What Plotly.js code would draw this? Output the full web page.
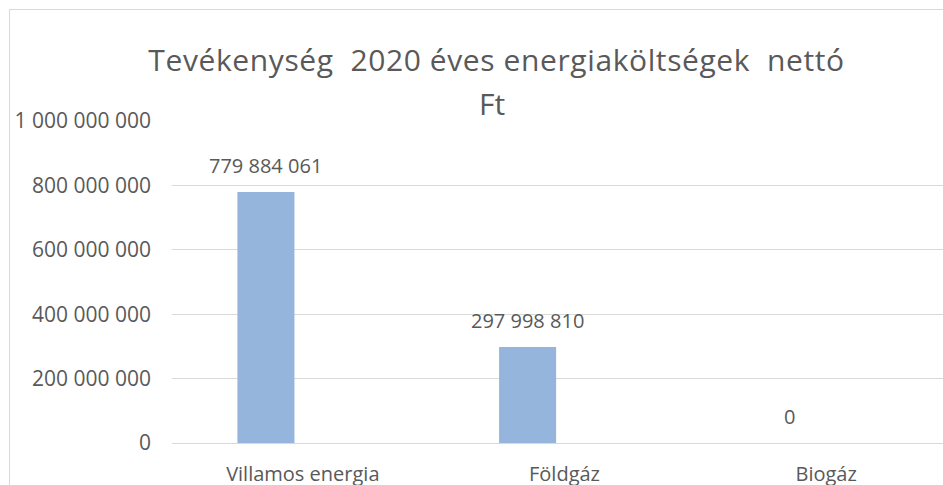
<!DOCTYPE html>
<html>
<head>
<meta charset="utf-8">
<script src="https://cdn.plot.ly/plotly-3.0.1.min.js"></script>
<style>
  html, body { margin: 0; padding: 0; width: 943px; height: 485px; overflow: hidden; background: #fff; }
  #frame { position: absolute; left: 9px; top: 9px; width: 1000px; height: 520px; border: 1px solid #d9d9d9; }
  #chart { width: 1000px; height: 520px; }
  .gtitle { letter-spacing: 0.6px; }
</style>
</head>
<body>
<div id="frame"><div id="chart"></div></div>
<script>
// ---- data ----
const categories = ["Villamos energia", "Földgáz", "Biogáz"];
const values = [779884061, 297998810, 0];
const titleLine1 = "Tevékenység\u00A0\u00A02020 éves energiaköltségek\u00A0\u00A0nettó";
const titleLine2 = "Ft";
const yTickVals = [0, 200000000, 400000000, 600000000, 800000000, 1000000000];

// ---- style ----
const textColor = "#595959";
const gridColor = "#d9d9d9";
const barColor = "#95b5dd";
const fontFam = "'Open Sans', sans-serif";
const barOffset = -0.25;
const barWidth = 0.218;

function fmt(v) {
  return String(v).replace(/\B(?=(\d{3})+(?!\d))/g, "\u00A0");
}

const trace = {
  type: "bar",
  x: categories,
  y: values,
  offset: barOffset,
  width: barWidth,
  marker: { color: barColor, line: { width: 0 } },
  hoverinfo: "skip"
};

const labelAnns = values.map((v, i) => ({
  x: i + barOffset + barWidth / 2,
  y: v,
  xref: "x",
  yref: "y",
  text: fmt(v),
  showarrow: false,
  xanchor: "center",
  yanchor: "bottom",
  yshift: 11,
  font: { family: fontFam, size: 20, color: textColor }
}));

const layout = {
  width: 1000,
  height: 520,
  margin: { l: 162, r: 53, t: 110.5, b: 86.5, pad: 0 },
  paper_bgcolor: "#fff",
  plot_bgcolor: "#fff",
  separators: ", ",
  showlegend: false,
  font: { family: fontFam, color: textColor },
  title: {
    text: titleLine1,
    font: { family: fontFam, size: 30, color: textColor },
    xref: "container",
    yref: "container",
    x: 0.4865,
    xanchor: "center",
    y: 1 - 61 / 520,
    yanchor: "bottom"
  },
  xaxis: {
    type: "category",
    range: [-0.5, 2.5],
    showgrid: false,
    showline: false,
    zeroline: false,
    ticks: "",
    ticklabelstandoff: 17,
    tickfont: { family: fontFam, size: 20, color: textColor },
    fixedrange: true
  },
  yaxis: {
    range: [0, 1000000000],
    tickvals: yTickVals,
    tickformat: ",d",
    showgrid: true,
    gridcolor: gridColor,
    gridwidth: 1,
    zeroline: true,
    zerolinecolor: gridColor,
    zerolinewidth: 1,
    showline: false,
    ticks: "",
    ticklabelstandoff: 20,
    tickfont: { family: fontFam, size: 21, color: textColor },
    fixedrange: true
  },
  annotations: labelAnns.concat([{
    xref: "paper",
    yref: "paper",
    x: (492 - 171.7) / 784.8,
    y: 0.986,
    xanchor: "center",
    yanchor: "bottom",
    text: titleLine2,
    showarrow: false,
    font: { family: fontFam, size: 30, color: textColor }
  }])
};

Plotly.newPlot("chart", [trace], layout, { displayModeBar: false, staticPlot: true });
</script>
</body>
</html>
